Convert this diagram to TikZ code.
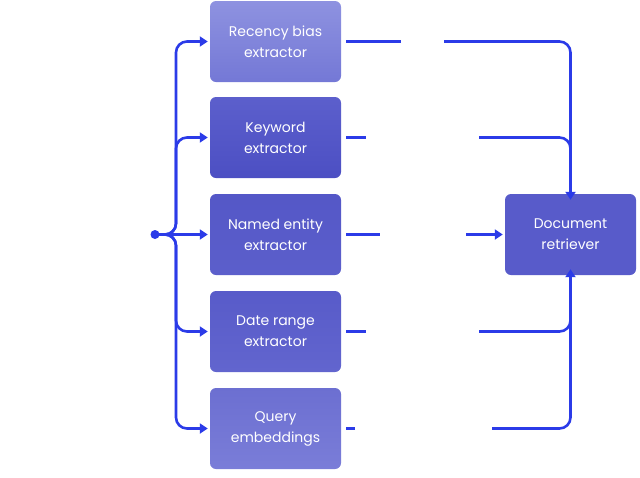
\documentclass[tikz,border=0pt]{standalone}
\usepackage{fontspec}
\setmainfont{Poppins}
\usepackage{tikz}
\usetikzlibrary{arrows.meta, positioning, calc}
\definecolor{wire}{HTML}{2B3BE8}

\begin{document}
\begin{tikzpicture}[x=1pt, y=-1pt,
    box/.style={rounded corners=6pt, minimum width=131pt, minimum height=81pt,
        align=center, text=white, font=\fontsize{14}{21}\selectfont},
    wires/.style={draw=wire, line width=2.6pt, rounded corners=11pt},
    tip/.style={-{Triangle[length=8pt, width=10pt]}}]
    \useasboundingbox (0,0) rectangle (640,477);
        % extractors
        \node[box, top color={rgb,255:red,142;green,146;blue,224}, bottom color={rgb,255:red,116;green,120;blue,214}] (rec) at (275.5,41.5) {Recency bias\\extractor};
        \node[box, top color={rgb,255:red,92;green,95;blue,204}, bottom color={rgb,255:red,76;green,79;blue,195}] (key) at (275.5,137.5) {Keyword\\extractor};
        \node[box, top color={rgb,255:red,84;green,87;blue,199}, bottom color={rgb,255:red,92;green,95;blue,203}] (ner) at (275.5,234.5) {Named entity\\extractor};
        \node[box, top color={rgb,255:red,88;green,91;blue,201}, bottom color={rgb,255:red,98;green,101;blue,206}] (date) at (275.5,331.5) {Date range\\extractor};
        \node[box, top color={rgb,255:red,108;green,111;blue,209}, bottom color={rgb,255:red,122;green,125;blue,216}] (emb) at (275.5,428.5) {Query\\embeddings};
        \node[box, fill={rgb,255:red,88;green,91;blue,202}] (doc) at (570.5,234.5) {Document\\retriever};
        % fan out
        \fill[wire] (155,234.5) circle (4.5pt) coordinate (src);
        \foreach \to in {rec,key,date,emb}
            \draw[wires, tip] (src) -- (176,234.5) |- ([xshift=-2pt]\to.west);
        \draw[wires, tip] (src) -- ([xshift=-2pt]ner.west);
        % gaps
        \coordinate (g1) at (401,41.5);   \coordinate (h1) at (444,41.5);
        \coordinate (g2) at (366,137.5);  \coordinate (h2) at (479,137.5);
        \coordinate (g3) at (380,234.5);  \coordinate (h3) at (466,234.5);
        \coordinate (g4) at (366,331.5);  \coordinate (h4) at (479,331.5);
        \coordinate (g5) at (355,428.5);  \coordinate (h5) at (492,428.5);
        \foreach \from/\gap in {rec/g1,key/g2,ner/g3,date/g4,emb/g5}
            \draw[wires] ([xshift=5pt]\from.east) -- (\gap);
        % into the retriever
        \draw[wires, tip] (h1) -| ([yshift=-6pt]doc.north);
        \draw[wires] (h2) -| (570.5,175);
        \draw[wires, tip] (h3) -- ([xshift=-2pt]doc.west);
        \draw[wires] (h4) -| (570.5,300);
        \draw[wires, tip] (h5) -| ([yshift=6pt]doc.south);
\end{tikzpicture}
\end{document}
